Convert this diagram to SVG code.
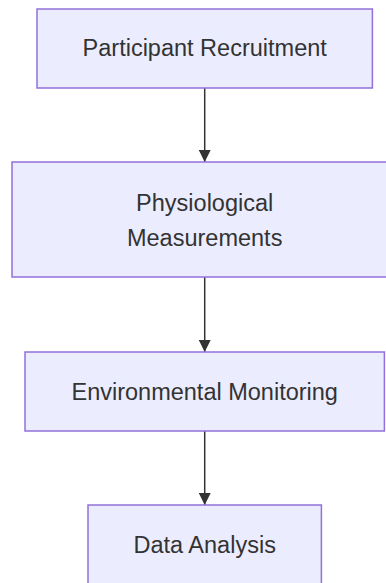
<svg xmlns="http://www.w3.org/2000/svg" width="386" height="583" viewBox="0 0 386 583">
  <defs>
    <style>
      .box { fill: #ECECFF; stroke: #9370DB; stroke-width: 1.5; }
      .lbl { font-family: "Liberation Sans", Arial, sans-serif; font-size: 23.5px; fill: #333333; text-anchor: middle; }
      .edge { stroke: #333333; stroke-width: 1.5; fill: none; }
    </style>
    <marker id="arrow" viewBox="0 0 12 12" refX="12" refY="6" markerWidth="12" markerHeight="12" markerUnits="userSpaceOnUse" orient="auto">
      <path d="M0,0 L12,6 L0,12 Z" fill="#333333"/>
    </marker>
  </defs>

  <g id="edges">
    <line class="edge" x1="204.7" y1="88" x2="204.7" y2="162" marker-end="url(#arrow)"/>
    <line class="edge" x1="204.7" y1="277" x2="204.7" y2="352" marker-end="url(#arrow)"/>
    <line class="edge" x1="204.7" y1="431" x2="204.7" y2="505" marker-end="url(#arrow)"/>
  </g>

  <g id="recruitment">
    <rect class="box" x="37" y="9" width="335.4" height="79"/>
    <text class="lbl" x="204.7" y="56">Participant Recruitment</text>
  </g>

  <g id="physiological">
    <rect class="box" x="12" y="162" width="385.4" height="115"/>
    <text class="lbl" x="204.7" y="211">Physiological</text>
    <text class="lbl" x="204.7" y="246">Measurements</text>
  </g>

  <g id="environmental">
    <rect class="box" x="25" y="352" width="359.4" height="79"/>
    <text class="lbl" x="204.7" y="400">Environmental Monitoring</text>
  </g>

  <g id="analysis">
    <rect class="box" x="88" y="505" width="233.4" height="79"/>
    <text class="lbl" x="204.7" y="553">Data Analysis</text>
  </g>
</svg>
